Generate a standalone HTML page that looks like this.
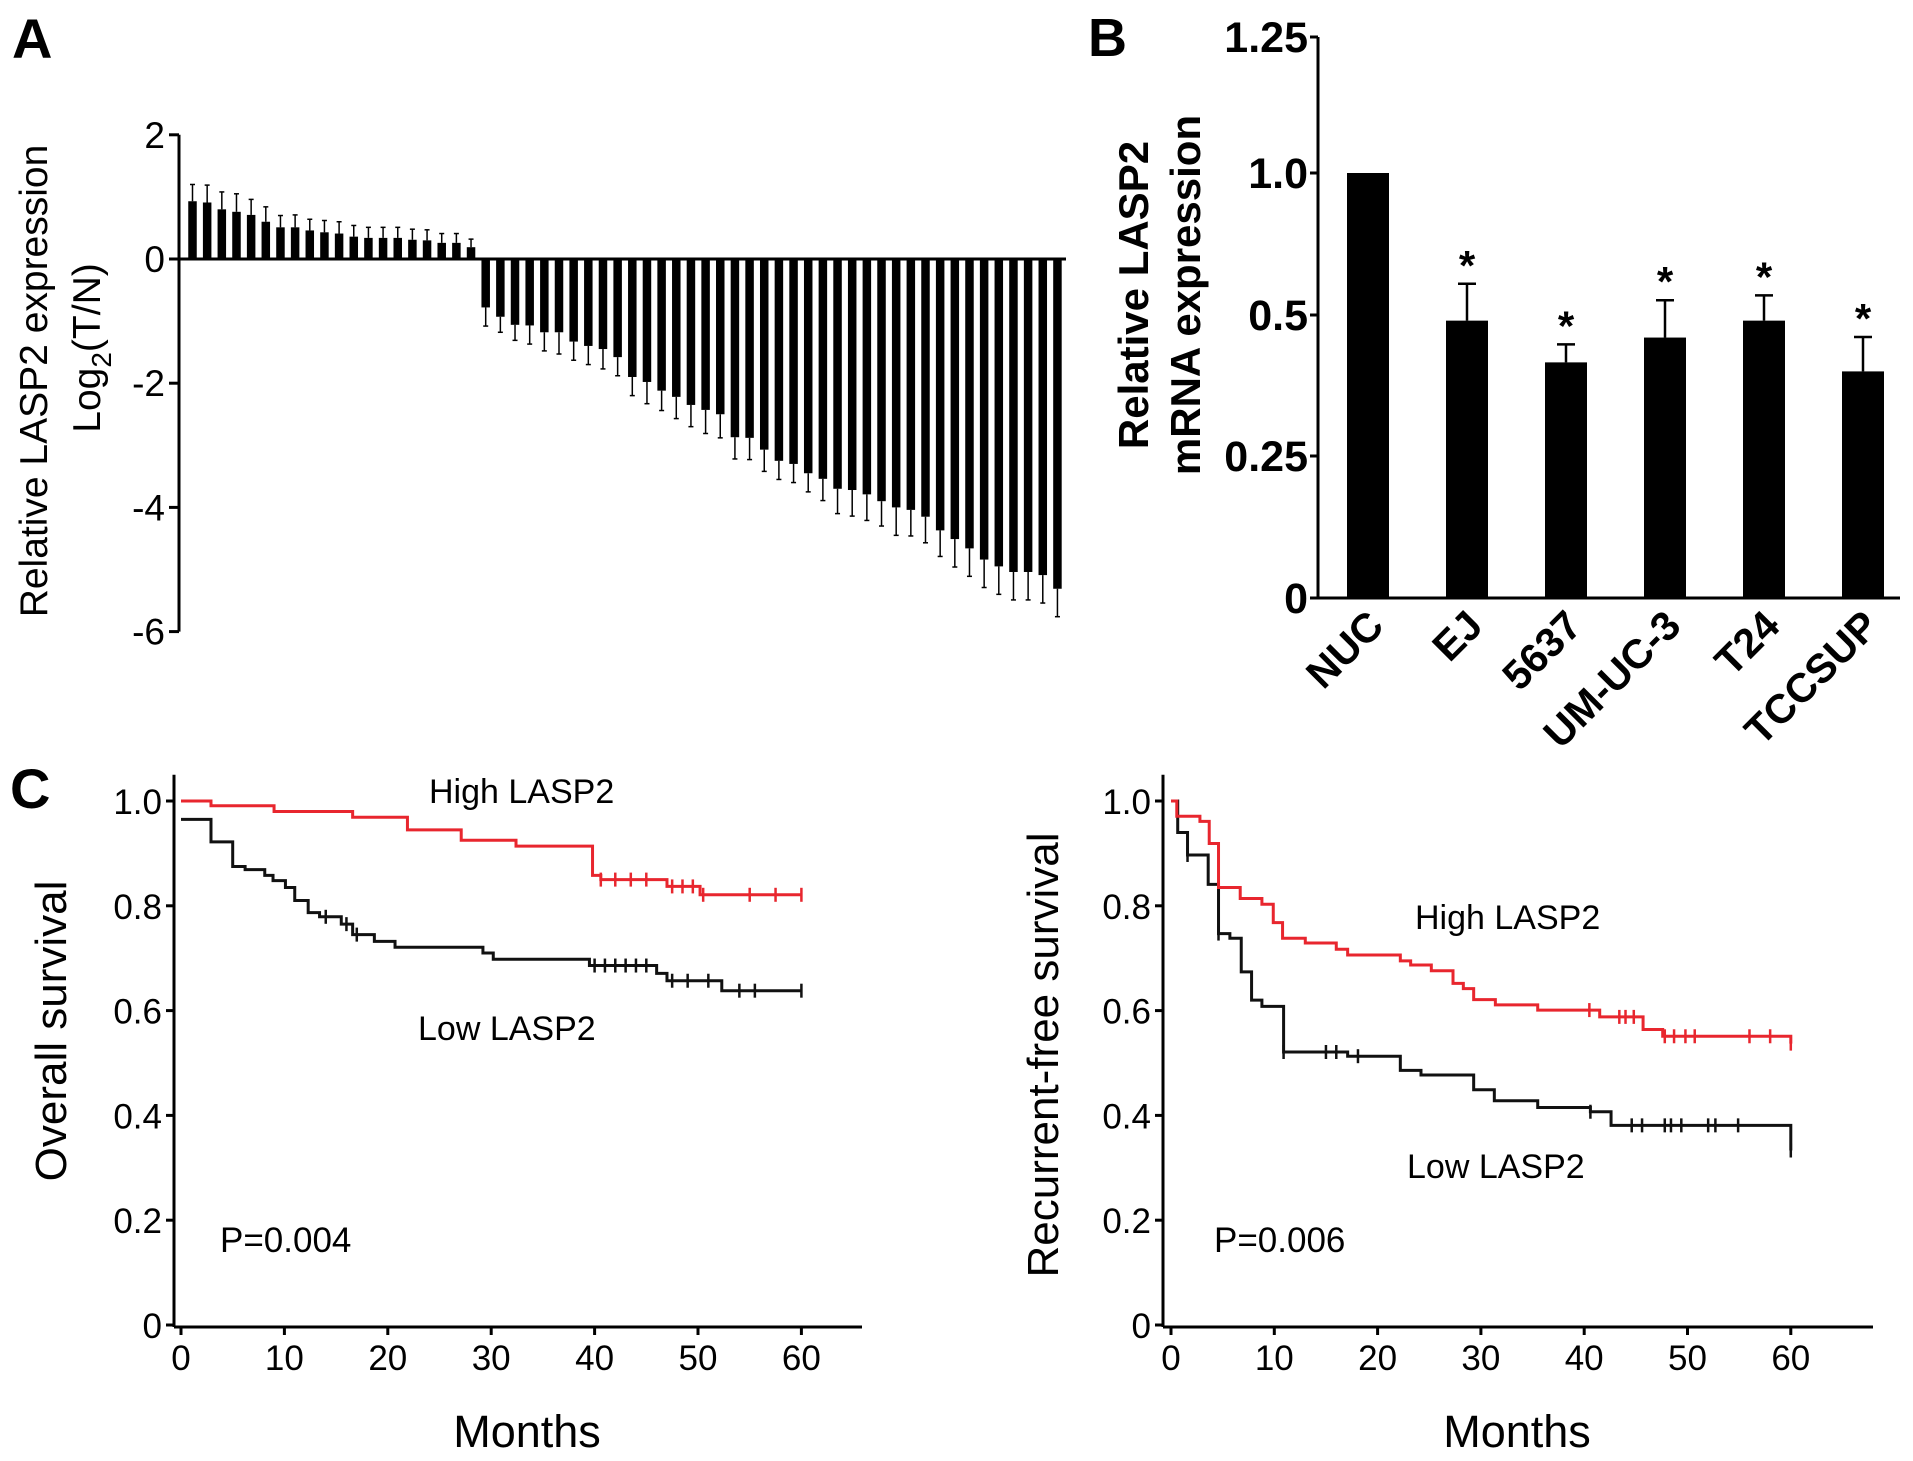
<!DOCTYPE html>
<html><head><meta charset="utf-8"><style>
html,body{margin:0;padding:0;background:#fff;}
svg{display:block;font-family:"Liberation Sans",Arial,sans-serif;}
</style></head><body>
<svg id="fig" width="1913" height="1461" viewBox="0 0 1913 1461" xmlns="http://www.w3.org/2000/svg">
<g id="pa"></g>
<g id="pb"></g>
<g id="pc1"></g>
<g id="pc2"></g>
</svg>
<script>
// Panel A data
const aValues = [0.93,0.91,0.8,0.76,0.71,0.6,0.51,0.51,0.46,0.43,0.41,0.36,0.34,0.34,0.34,0.31,0.3,0.26,0.26,0.19,
 -0.78,-0.93,-1.06,-1.07,-1.18,-1.18,-1.33,-1.4,-1.45,-1.58,-1.9,-1.98,-2.12,-2.22,-2.35,-2.43,-2.5,-2.87,-2.88,-3.07,
 -3.25,-3.3,-3.45,-3.54,-3.7,-3.72,-3.79,-3.9,-4.0,-4.04,-4.15,-4.37,-4.51,-4.66,-4.84,-4.95,-5.04,-5.04,-5.09,-5.31];
const aErrors = [0.27,0.28,0.28,0.29,0.25,0.24,0.19,0.2,0.18,0.19,0.19,0.18,0.17,0.17,0.17,0.17,0.17,0.15,0.15,0.13,
 0.3,0.25,0.25,0.3,0.3,0.35,0.3,0.3,0.32,0.3,0.3,0.35,0.32,0.35,0.35,0.38,0.38,0.35,0.35,0.35,
 0.3,0.3,0.3,0.35,0.4,0.42,0.42,0.4,0.45,0.42,0.42,0.42,0.45,0.45,0.45,0.45,0.45,0.45,0.45,0.45];
const aTicks = [2,0,-2,-4,-6];
// Panel B data
const bCategories = ["NUC","EJ","5637","UM-UC-3","T24","TCCSUP"];
const bValues = [1.0,0.49,0.416,0.46,0.49,0.40];
const bErrTop = [1.0,0.61,0.448,0.552,0.569,0.461];
const bStar = [false,true,true,true,true,true];
const bTicks = [0,0.25,0.5,1.0,1.25];
const bTickLabels = ["0","0.25","0.5","1.0","1.25"];
// Panel C data
const osHighT = [0,2.9,9,16.6,21.9,27.1,32.4,39.8,40.6,47,50.2,60];
const osHighS = [1.0,0.991,0.98,0.969,0.945,0.925,0.914,0.858,0.85,0.837,0.821,0.821];
const osHighCens = [40.6,42,43.5,45,47.5,48.5,49.5,50.5,55,57.5,60];
const osLowT = [0,2.9,5,6.2,8.1,8.9,10.1,11,12.3,13.4,15.5,16.6,18.7,20.7,29.2,30.2,39.5,46,47,52.3,60];
const osLowS = [0.965,0.922,0.875,0.869,0.858,0.848,0.835,0.81,0.787,0.779,0.765,0.745,0.732,0.721,0.71,0.698,0.686,0.671,0.657,0.638,0.638];
const osLowCens = [14,16,17,40,41,42,43,44,45,47.5,49,51,54,55.5,60];
const rfHighT = [0,0.56,2.8,3.7,4.6,6.7,8.8,9.9,10.8,13,16,17.1,22.2,23.2,25.2,27.3,28.3,29.3,31.4,35.5,41.5,45.7,47.6,60];
const rfHighS = [1.0,0.971,0.961,0.919,0.835,0.814,0.803,0.768,0.738,0.729,0.717,0.706,0.695,0.687,0.676,0.652,0.642,0.621,0.611,0.601,0.588,0.564,0.551,0.537];
const rfHighCens = [40.5,43.4,44,44.8,47.8,48.7,49.8,50.7,56,58,60];
const rfLowT = [0,0.65,1.6,3.6,4.6,5.7,6.8,7.8,8.8,10.9,17.1,22.2,24.2,29.3,31.3,35.5,40.6,42.6,60];
const rfLowS = [1.0,0.94,0.897,0.841,0.747,0.738,0.674,0.62,0.608,0.521,0.513,0.486,0.477,0.449,0.428,0.415,0.407,0.381,0.333];
const rfLowCens = [1.6,4.6,10.9,15,16,18.1,40.6,44.6,45.6,47.8,48.4,49.4,52,52.7,54.9,60];
const cYTicks = [0,0.2,0.4,0.6,0.8,1.0];
const cXTicks = [0,10,20,30,40,50,60];

const NS="http://www.w3.org/2000/svg";
function mk(parent,tag,attrs,text){const e=document.createElementNS(NS,tag);for(const k in attrs)e.setAttribute(k,attrs[k]);if(text!==undefined)e.textContent=text;parent.appendChild(e);return e;}

// ---------- Panel A ----------
(function(){
 const g=document.getElementById('pa');
 const yA=v=>259-v*62.1;
 const x0=179, bw=8.5, step=14.66, first=192.5;
 const xA=i=>first+i*step;
 let t=mk(g,'text',{x:12,y:58,'font-size':56,'font-weight':'bold'},'A');
 
 let ax=mk(g,'line',{x1:x0,y1:yA(2),x2:x0,y2:yA(-6),stroke:'#000','stroke-width':3});
 
 aTicks.forEach(v=>{
  let l=mk(g,'line',{x1:x0-10,y1:yA(v),x2:x0,y2:yA(v),stroke:'#000','stroke-width':3});
  
  let tl=mk(g,'text',{x:x0-14,y:yA(v)+13,'font-size':37,'text-anchor':'end'},String(v));
  
 });
 aValues.forEach((v,i)=>{
  const cx=xA(i);
  const y1=Math.min(yA(0),yA(v)), h=Math.abs(yA(v)-yA(0));
  let r=mk(g,'rect',{x:cx-bw/2,y:y1,width:bw,height:h,fill:'#000'});
  
  const ve=v>=0?v+aErrors[i]:v-aErrors[i];
  let e=mk(g,'line',{x1:cx,y1:yA(v),x2:cx,y2:yA(ve),stroke:'#000','stroke-width':1.5});
  
  let c=mk(g,'line',{x1:cx-2.5,y1:yA(ve),x2:cx+2.5,y2:yA(ve),stroke:'#000','stroke-width':1.5});
  
 });
 let z=mk(g,'line',{x1:x0,y1:yA(0),x2:1066,y2:yA(0),stroke:'#000','stroke-width':3});
 
 let yl=mk(g,'text',{transform:'translate(47,381) rotate(-90)','font-size':39,'text-anchor':'middle'},'Relative LASP2 expression');
 
 let y2=mk(g,'text',{transform:'translate(100,348) rotate(-90)','font-size':39,'text-anchor':'middle'});
 
 mk(y2,'tspan',{},'Log');mk(y2,'tspan',{'font-size':28,dy:11},'2');mk(y2,'tspan',{dy:-11},'(T/N)');
})();

// ---------- Panel B ----------
(function(){
 const g=document.getElementById('pb');
 const dom=[0,0.25,0.5,1.0,1.25], rng=[598,456,315,173,37];
 const yB=v=>{for(let i=0;i<dom.length-1;i++){if(v<=dom[i+1]){return rng[i]+(v-dom[i])/(dom[i+1]-dom[i])*(rng[i+1]-rng[i]);}}return rng[rng.length-1];};
 const x0=1318, xEnd=1900;
 const xB=i=>1368+i*((1863-1368)/5);
 const bw=42;
 let t=mk(g,'text',{x:1088,y:56,'font-size':54,'font-weight':'bold'},'B');
 
 let ax=mk(g,'line',{x1:x0,y1:yB(1.25),x2:x0,y2:yB(0),stroke:'#000','stroke-width':3});
 
 let xa=mk(g,'line',{x1:x0,y1:yB(0),x2:xEnd,y2:yB(0),stroke:'#000','stroke-width':3});
 
 bTicks.forEach((v,i)=>{
  let l=mk(g,'line',{x1:x0-8,y1:yB(v),x2:x0,y2:yB(v),stroke:'#000','stroke-width':3});
  
  let tl=mk(g,'text',{x:x0-10,y:yB(v)+15,'font-size':43,'font-weight':'bold','text-anchor':'end'},bTickLabels[i]);
  
 });
 bCategories.forEach((c,i)=>{
  const cx=xB(i);
  let r=mk(g,'rect',{x:cx-bw/2,y:yB(bValues[i]),width:bw,height:yB(0)-yB(bValues[i]),fill:'#000'});
  
  if(bErrTop[i]>bValues[i]){
   let e=mk(g,'line',{x1:cx,y1:yB(bValues[i]),x2:cx,y2:yB(bErrTop[i]),stroke:'#000','stroke-width':2.5});
   
   let cp=mk(g,'line',{x1:cx-9,y1:yB(bErrTop[i]),x2:cx+9,y2:yB(bErrTop[i]),stroke:'#000','stroke-width':2.5});
   
  }
  if(bStar[i]){
   let s=mk(g,'text',{x:cx,y:yB(bErrTop[i])-4,'font-size':42,'font-weight':'bold','text-anchor':'middle'},'*');
   
  }
  let lb=mk(g,'text',{transform:`translate(${cx+18},${yB(0)+30}) rotate(-45)`,'font-size':41,'font-weight':'bold','text-anchor':'end'},c);
  
 });
 let yl=mk(g,'text',{transform:'translate(1148,295) rotate(-90)','font-size':42,'font-weight':'bold','text-anchor':'middle'},'Relative LASP2');
 
 let y2=mk(g,'text',{transform:'translate(1200,295) rotate(-90)','font-size':42,'font-weight':'bold','text-anchor':'middle'},'mRNA expression');
 
})();

// ---------- Panel C ----------
function km(g,cfg){
 const xS=m=>cfg.x0+m*cfg.px10/10, yS=s=>1325-s*524;
 let ax=mk(g,'line',{x1:cfg.ax,y1:yS(1.05),x2:cfg.ax,y2:yS(0)+2,stroke:'#000','stroke-width':3});
 
 let xa=mk(g,'line',{x1:cfg.ax,y1:yS(0)+2,x2:cfg.xEnd,y2:yS(0)+2,stroke:'#000','stroke-width':3});
 
 cYTicks.forEach(v=>{
  let l=mk(g,'line',{x1:cfg.ax-8,y1:yS(v),x2:cfg.ax,y2:yS(v),stroke:'#000','stroke-width':3});
  
  let tl=mk(g,'text',{x:cfg.ax-12,y:yS(v)+13,'font-size':35,'text-anchor':'end'},v===0?'0':v.toFixed(1));
  
 });
 cXTicks.forEach(v=>{
  let l=mk(g,'line',{x1:xS(v),y1:yS(0)+2,x2:xS(v),y2:yS(0)+10,stroke:'#000','stroke-width':3});
  
  let tl=mk(g,'text',{x:xS(v),y:1370,'font-size':35,'text-anchor':'middle'},String(v));
  
 });
 function curve(T,S,C,color,name){
  let d=`M${xS(T[0])},${yS(S[0])}`;
  for(let i=1;i<T.length;i++){d+=` H${xS(T[i])} V${yS(S[i])}`;}
  let p=mk(g,'path',{d:d,fill:'none',stroke:color,'stroke-width':3});
  
  C.forEach(c=>{
   let s=S[0];for(let i=0;i<T.length;i++){if(T[i]<=c)s=S[i];}
   let m=mk(g,'line',{x1:xS(c),y1:yS(s)-7,x2:xS(c),y2:yS(s)+7,stroke:color,'stroke-width':2.5});
   
  });
 }
 curve(cfg.lowT,cfg.lowS,cfg.lowC,'#111','low-lasp2');
 curve(cfg.highT,cfg.highS,cfg.highC,'#e8262e','high-lasp2');
 let yl=mk(g,'text',{transform:`translate(${cfg.ylx},${cfg.yly}) rotate(-90)`,'font-size':44,'text-anchor':'middle'},cfg.ytitle);
 
 let xl=mk(g,'text',{x:cfg.mx,y:1447,'font-size':45,'text-anchor':'middle'},'Months');
 
 let h=mk(g,'text',{x:cfg.hx,y:cfg.hy,'font-size':34},'High LASP2');
 
 let lo=mk(g,'text',{x:cfg.lx,y:cfg.ly,'font-size':34},'Low LASP2');
 
 let pv=mk(g,'text',{x:cfg.px,y:1252,'font-size':35},cfg.ptext);
 
}
(function(){
 const g=document.getElementById('pc1');
 let t=mk(g,'text',{x:10,y:808,'font-size':56,'font-weight':'bold'},'C');
 
 km(g,{x0:181,px10:103.4,ax:174,xEnd:862,highT:osHighT,highS:osHighS,highC:osHighCens,lowT:osLowT,lowS:osLowS,lowC:osLowCens,
  ylx:66,yly:1031,ytitle:'Overall survival',mx:527,hx:429,hy:803,lx:418,ly:1040,px:220,ptext:'P=0.004'});
})();
(function(){
 const g=document.getElementById('pc2');
 km(g,{x0:1171,px10:103.3,ax:1163,xEnd:1873,highT:rfHighT,highS:rfHighS,highC:rfHighCens,lowT:rfLowT,lowS:rfLowS,lowC:rfLowCens,
  ylx:1058,yly:1055,ytitle:'Recurrent-free survival',mx:1517,hx:1415,hy:929,lx:1407,ly:1178,px:1214,ptext:'P=0.006'});
})();
</script>
</body></html>
